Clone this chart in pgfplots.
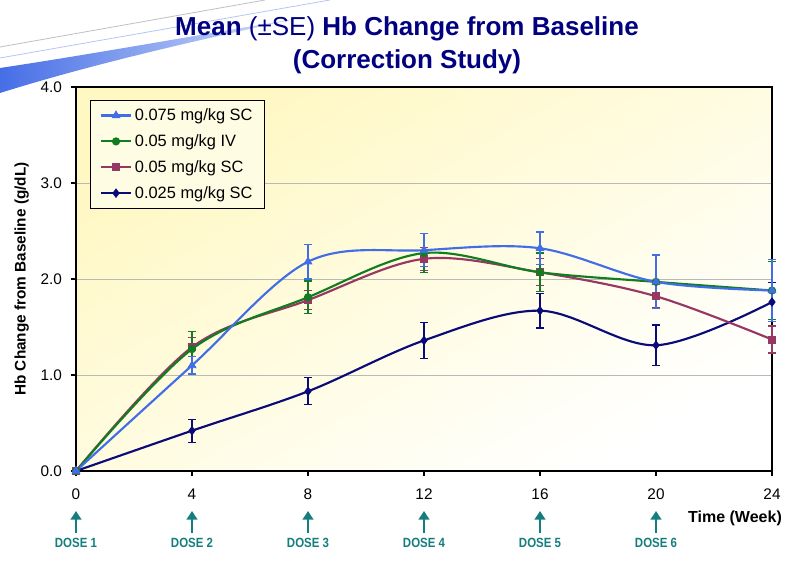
\documentclass[border=0pt]{standalone}
\usepackage{fontspec}
\setmainfont{Liberation Sans}
\usepackage{pgfplots}
\pgfplotsset{compat=1.18}
\usetikzlibrary{arrows.meta}
\definecolor{cBlue}{RGB}{65,110,230}
\definecolor{cGreen}{RGB}{16,125,32}
\definecolor{cMaroon}{RGB}{150,55,100}
\definecolor{cNavy}{RGB}{10,10,120}
\definecolor{cTeal}{RGB}{20,125,125}
\definecolor{cTitle}{RGB}{0,0,128}
\definecolor{bgY}{RGB}{255,248,195}
\definecolor{swB}{RGB}{70,110,230}
\definecolor{swL}{RGB}{215,225,250}

\begin{document}
\begin{tikzpicture}
\begin{scope}[x=0.75pt,y=0.75pt]
\path[use as bounding box] (0,0) rectangle (795,560);
% decorative swoosh (image coords: y_tikz = 560 - y_img)
\shade[left color=swB, right color=swL] (0,492) .. controls (80,504) and (170,520) .. (300,542)
  .. controls (170,514) and (80,492) .. (0,467) -- cycle;
\draw[gray!50, line width=0.6pt] (0,513) -- (265,560);
\draw[swB!40, line width=0.6pt] (0,502) -- (330,560);
% title
\node[anchor=base, text=cTitle, font=\fontsize{19.5}{22}\selectfont\bfseries] at (407,524)
  {Mean {\mdseries(\textpm SE)} Hb Change from Baseline};
\node[anchor=base, text=cTitle, font=\fontsize{19.5}{22}\selectfont\bfseries] at (407,491)
  {(Correction Study)};
\end{scope}

\pgfplotstableread{
x y e
0 0 0
4 1.10 0.09
8 2.18 0.18
12 2.30 0.17
16 2.32 0.17
20 1.97 0.28
24 1.88 0.32
}\tblBlue
\pgfplotstableread{
x y e
0 0 0
4 1.27 0.18
8 1.81 0.17
12 2.27 0.20
16 2.07 0.20
20 1.97 0.28
24 1.88 0.30
}\tblGreen
\pgfplotstableread{
x y e
0 0 0
4 1.29 0.10
8 1.78 0.10
12 2.21 0.12
16 2.07 0.14
20 1.82 0.12
24 1.37 0.14
}\tblMaroon
\pgfplotstableread{
x y e
0 0 0
4 0.42 0.12
8 0.83 0.14
12 1.36 0.19
16 1.67 0.18
20 1.31 0.21
24 1.76 0.20
}\tblNavy

\begin{axis}[
  at={(57pt,66.75pt)}, anchor=south west,
  width=522pt, height=288pt, scale only axis,
  xmin=0, xmax=24, ymin=0, ymax=4,
  xtick={0,4,...,24}, ytick={0,1,2,3,4},
  tick pos=left, tick align=outside, major tick length=4pt,
  tick style={black, line width=0.8pt},
  axis line style={black, line width=2.2pt},
  ymajorgrids, grid style={gray!55, line width=0.7pt},
  axis background/.style={top color=bgY, bottom color=white, shading angle=30},
  /pgf/number format/assume math mode=true,
  yticklabel={\pgfmathprintnumber[fixed, fixed zerofill, precision=1]{\tick}},
  xticklabel style={font=\fontsize{11.5}{13}\selectfont, yshift=-6pt},
  yticklabel style={font=\fontsize{11.5}{13}\selectfont, xshift=-3pt},
  ylabel={Hb Change from Baseline (g/dL)},
  ylabel style={font=\fontsize{11.5}{13}\selectfont\bfseries, at={(axis description cs:-0.078,0.5)}, anchor=center},
  clip=false,
  legend cell align=left,
  reverse legend,
  legend style={at={(axis description cs:0.02,0.966)}, anchor=north west,
    draw=black, line width=0.8pt, fill=bgY!45!white,
    font=\fontsize{12.3}{14}\selectfont, row sep=5pt, inner xsep=7pt, inner ysep=4pt},
  legend image code/.code={\draw[mark repeat=2, mark phase=2] plot coordinates {(0cm,0cm) (0.4cm,0cm) (0.8cm,0cm)};},
  every axis plot/.append style={smooth, tension=0.55, line width=1.6pt},
  error bars/y dir=both, error bars/y explicit,
]
\addplot[color=cNavy, mark=diamond*, mark size=3.2pt, mark options={solid, fill=cNavy, line width=0.5pt},
  error bars/error bar style={line width=0.9pt, cNavy},
  error bars/error mark options={rotate=90, mark size=3pt, line width=0.9pt, cNavy}]
  table[x=x, y=y, y error=e] {\tblNavy};
\addlegendentry{0.025 mg/kg SC}
\addplot[color=cMaroon, mark=square*, mark size=2.6pt, mark options={solid, fill=cMaroon, line width=0.5pt},
  error bars/error bar style={line width=0.9pt, cMaroon},
  error bars/error mark options={rotate=90, mark size=3pt, line width=0.9pt, cMaroon}]
  table[x=x, y=y, y error=e] {\tblMaroon};
\addlegendentry{0.05 mg/kg SC}
\addplot[color=cGreen, mark=*, mark size=2.8pt, mark options={solid, fill=cGreen, line width=0.5pt},
  error bars/error bar style={line width=0.9pt, cGreen},
  error bars/error mark options={rotate=90, mark size=3pt, line width=0.9pt, cGreen}]
  table[x=x, y=y, y error=e] {\tblGreen};
\addlegendentry{0.05 mg/kg IV}
\addplot[color=cBlue, mark=triangle*, mark size=3.4pt, mark options={solid, fill=cBlue, line width=0.5pt},
  error bars/error bar style={line width=0.9pt, cBlue},
  error bars/error mark options={rotate=90, mark size=3pt, line width=0.9pt, cBlue}]
  table[x=x, y=y, y error=e] {\tblBlue};
\addlegendentry{0.075 mg/kg SC}
\end{axis}

\begin{scope}[x=0.75pt,y=0.75pt]
\foreach \xx/\k in {76/1,192/2,308/3,424/4,540/5,656/6}{
  \draw[cTeal, line width=1.6pt, -{Triangle[width=8pt,length=6.5pt]}] (\xx,27) -- (\xx,49);
  \node[text=cTeal, font=\fontsize{10}{11}\selectfont\bfseries, xscale=0.86] at (\xx,17) {DOSE \k};
}
\node[font=\fontsize{12}{14}\selectfont\bfseries] at (735,42) {Time (Week)};
\end{scope}
\end{tikzpicture}
\end{document}
